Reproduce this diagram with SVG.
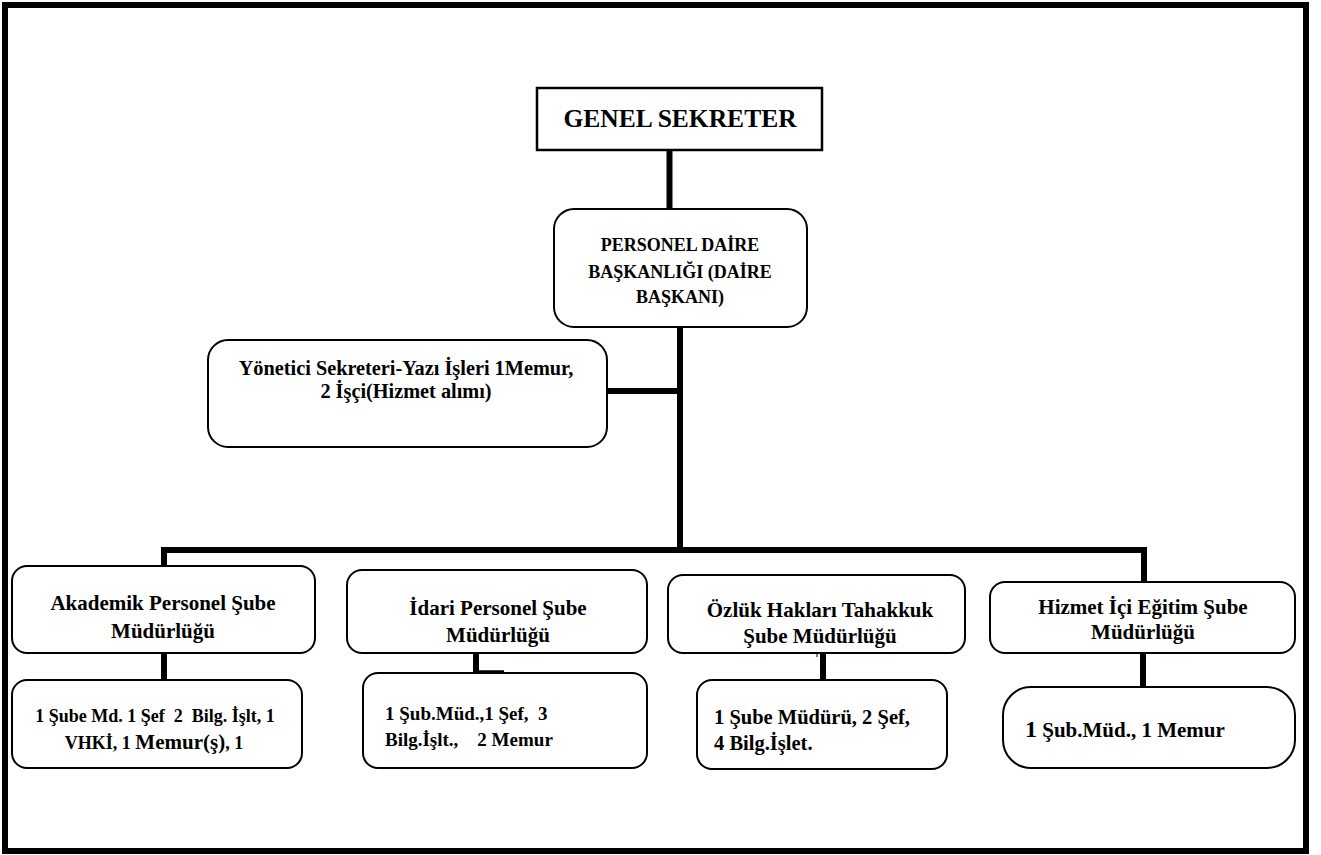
<svg xmlns="http://www.w3.org/2000/svg" width="1321" height="855" viewBox="0 0 1321 855">
<style>
.box{fill:#fff;stroke:#000;stroke-width:2}
.t{font-family:"Liberation Serif","Times New Roman",serif;font-weight:bold;fill:#000}
.c{text-anchor:middle}
.pre{white-space:pre}
.conn line{stroke:#000;stroke-width:6;stroke-linecap:square}
</style>
<rect id="frame" x="5" y="5" width="1301" height="846" fill="#fff" stroke="#000" stroke-width="6"/>
<g class="conn" id="connectors">
<line x1="669.5" y1="151" x2="669.5" y2="208"/>
<line x1="680" y1="328" x2="680" y2="550"/>
<line x1="608" y1="391" x2="680" y2="391"/>
<line x1="164" y1="550" x2="1144" y2="550"/>
<line x1="164" y1="550" x2="164" y2="565"/>
<line x1="1144" y1="550" x2="1144" y2="582"/>
<line x1="164" y1="654" x2="164" y2="679"/>
<line x1="476" y1="654" x2="476" y2="670"/>
<line x1="476" y1="671.5" x2="504" y2="671.5" style="stroke-width:2.5;stroke-linecap:butt"/>
<line x1="823" y1="654" x2="823" y2="679"/>
<line x1="817" y1="651" x2="817" y2="657" style="stroke-width:1;stroke-linecap:butt"/>
<line x1="1143" y1="654" x2="1143" y2="686"/>
</g>
<g id="genel-sekreter">
<rect class="box" x="537" y="88" width="285" height="62" style="stroke-width:2.5"/>
<text class="t c" x="680" y="127" font-size="25.5">GENEL SEKRETER</text>
</g>
<g id="personel-daire">
<rect class="box" x="554" y="209" width="253" height="118" rx="20"/>
<text class="t c" x="680" y="251" font-size="18">PERSONEL DAİRE</text>
<text class="t c" x="680" y="278" font-size="18">BAŞKANLIĞI (DAİRE</text>
<text class="t c" x="680" y="303" font-size="18">BAŞKANI)</text>
</g>
<g id="yonetici">
<rect class="box" x="208" y="340" width="399" height="107" rx="20"/>
<text class="t c" x="406" y="375" font-size="20.3">Yönetici Sekreteri-Yazı İşleri 1Memur,</text>
<text class="t c" x="406" y="398" font-size="20.3">2 İşçi(Hizmet alımı)</text>
</g>
<g id="akademik">
<rect class="box" x="12" y="566" width="303" height="87" rx="15"/>
<text class="t c" x="163" y="610" font-size="21">Akademik Personel Şube</text>
<text class="t c" x="163" y="638" font-size="21">Müdürlüğü</text>
</g>
<g id="akademik-kadro">
<rect class="box" x="12" y="680" width="290" height="88" rx="15"/>
<text class="t c pre" x="155" y="722" font-size="18">1 Şube Md. 1 Şef  2  Bilg. İşlt, 1</text>
<text class="t c" x="154" y="749" font-size="18">VHKİ, 1 <tspan font-size="21">Memur(ş)</tspan>, 1</text>
</g>
<g id="idari">
<rect class="box" x="347" y="570" width="300" height="83" rx="15"/>
<text class="t c" x="498" y="615" font-size="21">İdari Personel Şube</text>
<text class="t c" x="498" y="642" font-size="21">Müdürlüğü</text>
</g>
<g id="idari-kadro">
<rect class="box" x="363" y="673" width="284" height="95" rx="15"/>
<text class="t pre" x="385" y="720" font-size="19">1 Şub.Müd.,1 Şef,  3</text>
<text class="t pre" x="385" y="746" font-size="19">Bilg.İşlt.,    2 Memur</text>
</g>
<g id="ozluk">
<rect class="box" x="668" y="575" width="297" height="78" rx="15"/>
<text class="t c" x="820" y="617" font-size="21">Özlük Hakları Tahakkuk</text>
<text class="t c" x="820" y="643" font-size="21">Şube Müdürlüğü</text>
</g>
<g id="ozluk-kadro">
<rect class="box" x="697" y="680" width="250" height="89" rx="15"/>
<text class="t" x="714" y="724" font-size="20.5">1 Şube Müdürü, 2 Şef,</text>
<text class="t" x="714" y="750" font-size="20.5">4 Bilg.İşlet.</text>
</g>
<g id="hizmet-ici">
<rect class="box" x="990" y="582" width="305" height="71" rx="15"/>
<text class="t c" x="1143" y="614" font-size="21">Hizmet İçi Eğitim Şube</text>
<text class="t c" x="1143" y="639" font-size="21">Müdürlüğü</text>
</g>
<g id="hizmet-ici-kadro">
<rect class="box" x="1003" y="687" width="292" height="81" rx="28"/>
<text class="t" x="1025" y="737" font-size="21"><tspan font-size="24">1</tspan> Şub.Müd., 1 Memur</text>
</g>
</svg>
